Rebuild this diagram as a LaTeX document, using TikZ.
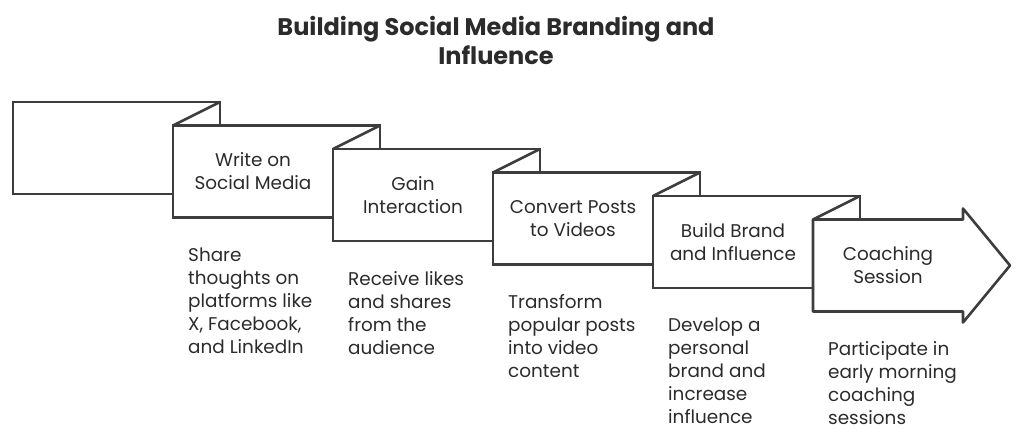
\documentclass[tikz,border=0pt]{standalone}
\usepackage{fontspec}
\setmainfont{Poppins}
\usepackage{xcolor}
\usepackage{tikz}
\usetikzlibrary{positioning}
\definecolor{inkgray}{HTML}{3D3D3D}
\definecolor{textgray}{HTML}{2B2B2B}
\newcommand{\boxfont}{\fontsize{18.4}{23}\selectfont}
\tikzset{
  stepbox/.style={rectangle, draw=inkgray, fill=white, line width=2.6pt, outer sep=0pt,
                  minimum width=207pt, minimum height=92pt, anchor=north west},
  arrowbody/.style={rectangle, fill=white, minimum width=150pt, minimum height=92pt,
                    outer sep=0pt, anchor=north west, align=center, font=\boxfont, text=textgray},
  steptext/.style={align=center, font=\boxfont, text=textgray},
  desc/.style={anchor=north west, align=left, inner sep=0pt, font=\boxfont, text=textgray},
  fold/.style={draw=inkgray, line width=2.6pt, line join=round},
  heading/.style={align=center, font=\fontsize{24}{29}\selectfont\bfseries, text=textgray},
}

\begin{document}
\begin{tikzpicture}[x=1pt, y=1pt]
  \useasboundingbox (0,0) rectangle (1024,436);

  % Title
  \node[heading] (title) at (496,395.5) {Building Social Media Branding and\\Influence};

  % Steps, each one folded over the one before
  \node[stepbox] (b0) at (13,334) {};

  \node[stepbox] (b1) at ([shift={(-47pt,-23.5pt)}]b0.north east) {};
  \draw[fold] (b1.north west) -- (b0.north east);
  \node[steptext] (t1) at ([xshift=80pt]b1.west) {Write on\\Social Media};

  \node[stepbox] (b2) at ([shift={(-47pt,-23.5pt)}]b1.north east) {};
  \draw[fold] (b2.north west) -- (b1.north east);
  \node[steptext] (t2) at ([xshift=80pt]b2.west) {Gain\\Interaction};

  \node[stepbox] (b3) at ([shift={(-47pt,-23.5pt)}]b2.north east) {};
  \draw[fold] (b3.north west) -- (b2.north east);
  \node[steptext] (t3) at ([xshift=80pt]b3.west) {Convert Posts\\to Videos};

  \node[stepbox] (b4) at ([shift={(-47pt,-23.5pt)}]b3.north east) {};
  \draw[fold] (b4.north west) -- (b3.north east);
  \node[steptext] (t4) at ([xshift=80pt]b4.west) {Build Brand\\and Influence};

  % Last step is the arrow
  \node[arrowbody] (b5) at ([shift={(-47pt,-23.5pt)}]b4.north east) {Coaching\\Session};
  \draw[fold] (b5.south west) -- (b5.north west) -- (b5.north east) -- ++(0,11)
    -- ([xshift=47pt]b5.east) -- ([yshift=-11pt]b5.south east) -- (b5.south east) -- cycle;
  \draw[fold] (b5.north west) -- (b4.north east);

  % Descriptions under the steps
  \node[desc] (d1) at ([shift={(15pt,-30pt)}]b1.south west)
    {Share\\thoughts on\\platforms like\\X, Facebook,\\and LinkedIn};
  \node[desc] (d2) at ([shift={(15pt,-30pt)}]b2.south west)
    {Receive likes\\and shares\\from the\\audience};
  \node[desc] (d3) at ([shift={(15pt,-30pt)}]b3.south west)
    {Transform\\popular posts\\into video\\content};
  \node[desc] (d4) at ([shift={(15pt,-30pt)}]b4.south west)
    {Develop a\\personal\\brand and\\increase\\influence};
  \node[desc] (d5) at ([shift={(15pt,-30pt)}]b5.south west)
    {Participate in\\early morning\\coaching\\sessions};

\end{tikzpicture}
\end{document}
